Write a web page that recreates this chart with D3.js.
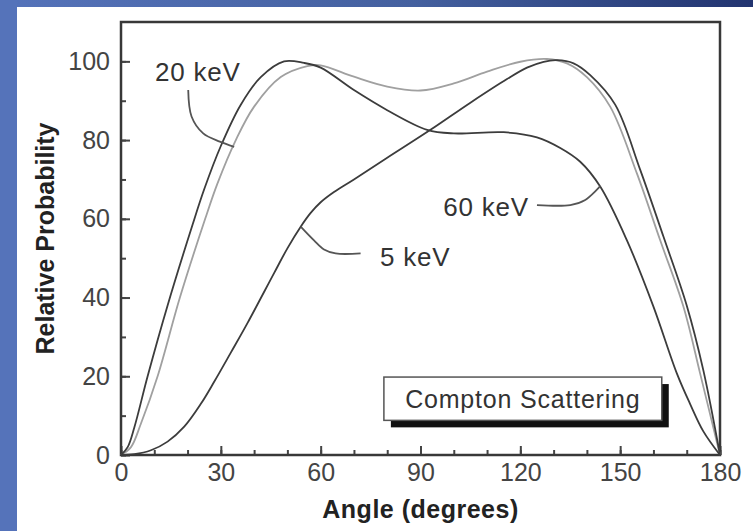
<!DOCTYPE html>
<html>
<head>
<meta charset="utf-8">
<script src="https://cdn.jsdelivr.net/npm/d3@7"></script>
<style>
  body { margin: 0; background: #fff; }
  svg { display: block; font-family: "Liberation Sans", Arial, sans-serif; }
</style>
</head>
<body>
<div id="chart"></div>
<script>
// Compton scattering: relative probability vs scattering angle

// 5 keV
var angles5 = [0, 4, 9, 14, 19, 24, 28, 33, 38, 46, 50, 54, 57, 60, 64, 70, 80, 93, 105, 116, 122, 127, 131, 136, 141, 148.5, 156, 163, 170, 175, 180];
var values5 = [0, 0.2, 1.2, 3.4, 7.2, 13, 18.6, 26, 33.5, 46.2, 52.5, 58, 61.5, 64.2, 66.8, 70, 75.5, 82.6, 89.5, 95.5, 98.4, 99.9, 100.3, 99.5, 96.5, 89, 72.5, 55.5, 38, 21.5, 0];

// 20 keV
var angles20 = [0, 3, 6, 11, 17.7, 25.3, 29, 34.5, 40, 48, 56, 60, 70, 80, 90, 100, 110, 120, 128, 134, 140, 147, 155, 162, 169, 174, 180];
var values20 = [0, 2, 8, 20, 40, 60, 69, 80, 88.5, 96, 98.8, 99, 96.1, 93.6, 92.6, 94.4, 97.4, 99.9, 100.6, 99.5, 96, 88.5, 71.6, 54.6, 37.7, 20.8, 0];

// 60 keV
var angles60 = [0, 2, 4, 8, 14, 21.5, 25, 30, 36, 42, 49, 55, 60, 70, 80, 92, 100, 115, 125, 132, 138, 144, 152, 160, 167, 171, 175, 180];
var values60 = [0, 2, 7, 20, 38, 58.5, 67.5, 78.5, 89, 96, 100, 99.6, 98.4, 92.7, 87.6, 82.6, 81.7, 82, 80.7, 78, 74.5, 68.2, 54.6, 37.7, 20.8, 13, 6, 0];

var xTicks = [0, 30, 60, 90, 120, 150, 180];
var yTicks = [0, 20, 40, 60, 80, 100];

// labels with leader lines (angle, value)
var label5 = { text: "5 keV", at: [77.8, 48], leader: [[54, 58], [58, 54.5], [61, 52.2], [64.5, 51.2], [72, 51.2]] };
var label20 = { text: "20 keV", at: [10.2, 95], leader: [[20.2, 92.7], [21.2, 86], [24.7, 81.7], [29.7, 79.6], [34, 78.3]] };
var label60 = { text: "60 keV", at: [96.8, 60.7], leader: [[125, 63.5], [135, 63.5], [139.5, 64.8], [144, 68.3]] };

var W = 753, H = 531;

var svg = d3.select("#chart").append("svg")
  .attr("width", W)
  .attr("height", H);

// blue slide background
var grad = svg.append("defs").append("linearGradient")
  .attr("id", "band")
  .attr("x1", "0%").attr("x2", "100%");
grad.append("stop").attr("offset", "0%").attr("stop-color", "#5573ba");
grad.append("stop").attr("offset", "55%").attr("stop-color", "#44609f");
grad.append("stop").attr("offset", "100%").attr("stop-color", "#223470");

svg.append("rect").attr("x", 0).attr("y", 0).attr("width", W).attr("height", 7).style("fill", "url(#band)");
svg.append("rect").attr("x", 0).attr("y", 0).attr("width", 17).attr("height", H).style("fill", "#5573ba");

var x = d3.scaleLinear().domain([0, 180]).range([121, 720]);
var y = d3.scaleLinear().domain([0, 110]).range([455, 22]);

// minor ticks
svg.append("g")
  .attr("transform", "translate(0," + y(0) + ")")
  .call(d3.axisBottom(x).tickValues(d3.range(0, 181, 10)).tickSize(-5).tickFormat(""))
  .call(function(g) { g.select(".domain").remove(); });
svg.append("g")
  .attr("transform", "translate(" + x(0) + ",0)")
  .call(d3.axisLeft(y).tickValues(d3.range(0, 101, 10)).tickSize(-5).tickFormat(""))
  .call(function(g) { g.select(".domain").remove(); });

// major ticks + labels
var xAxis = svg.append("g")
  .attr("transform", "translate(0," + y(0) + ")")
  .call(d3.axisBottom(x).tickValues(xTicks).tickSize(-9).tickPadding(8));
var yAxis = svg.append("g")
  .attr("transform", "translate(" + x(0) + ",0)")
  .call(d3.axisLeft(y).tickValues(yTicks).tickSize(-9).tickPadding(11));

[xAxis, yAxis].forEach(function(g) {
  g.select(".domain").remove();
  g.selectAll("text")
    .style("font-size", "25px")
    .style("font-family", "'Liberation Sans', Arial, sans-serif")
    .style("fill", "#444");
});
svg.selectAll(".tick line").style("stroke", "#444").style("stroke-width", 2);

// frame
svg.append("rect")
  .attr("x", x(0))
  .attr("y", y(110))
  .attr("width", x(180) - x(0))
  .attr("height", y(0) - y(110))
  .style("fill", "none")
  .style("stroke", "#383838")
  .style("stroke-width", 2.5);

// curves
var line = d3.line()
  .x(function(d) { return x(d[0]); })
  .y(function(d) { return y(d[1]); })
  .curve(d3.curveCatmullRom.alpha(0.5));

var series = [
  { a: angles20, v: values20, color: "#a0a0a0" },
  { a: angles5, v: values5, color: "#3c3c3c" },
  { a: angles60, v: values60, color: "#3c3c3c" }
];

svg.selectAll(".curve")
  .data(series)
  .enter().append("path")
  .attr("class", "curve")
  .attr("d", function(s) { return line(s.a.map(function(a, i) { return [a, s.v[i]]; })); })
  .style("fill", "none")
  .style("stroke", function(s) { return s.color; })
  .style("stroke-width", 1.8);

// curve labels
var leader = d3.line()
  .x(function(d) { return x(d[0]); })
  .y(function(d) { return y(d[1]); })
  .curve(d3.curveCatmullRom);

[label5, label20, label60].forEach(function(l) {
  svg.append("path")
    .attr("d", leader(l.leader))
    .style("fill", "none")
    .style("stroke", "#555")
    .style("stroke-width", 1.8);
  svg.append("text")
    .attr("x", x(l.at[0]))
    .attr("y", y(l.at[1]))
    .text(l.text)
    .style("font-size", "26px")
    .style("letter-spacing", "0.8px")
    .style("fill", "#333");
});

// legend box with shadow
var bx = x(79), by = y(19.8), bw = x(162.5) - x(79), bh = y(8.8) - y(19.8);
svg.append("rect")
  .attr("x", bx + 7).attr("y", by + 7)
  .attr("width", bw).attr("height", bh)
  .style("fill", "#111");
svg.append("rect")
  .attr("x", bx).attr("y", by)
  .attr("width", bw).attr("height", bh)
  .style("fill", "#fff")
  .style("stroke", "#555")
  .style("stroke-width", 1.5);
svg.append("text")
  .attr("x", bx + bw / 2)
  .attr("y", by + bh / 2 + 9)
  .text("Compton Scattering")
  .style("font-size", "25px")
  .style("letter-spacing", "0.8px")
  .style("text-anchor", "middle")
  .style("fill", "#333");

// axis titles
svg.append("text")
  .attr("x", (x(0) + x(180)) / 2)
  .attr("y", 518)
  .text("Angle (degrees)")
  .style("font-size", "25px")
  .style("font-weight", "bold")
  .style("letter-spacing", "0.5px")
  .style("text-anchor", "middle")
  .style("fill", "#222");

svg.append("text")
  .attr("transform", "translate(54," + (y(0) + y(110)) / 2 + ") rotate(-90)")
  .text("Relative Probability")
  .style("font-size", "25px")
  .style("font-weight", "bold")
  .style("text-anchor", "middle")
  .style("fill", "#222");
</script>
</body>
</html>
